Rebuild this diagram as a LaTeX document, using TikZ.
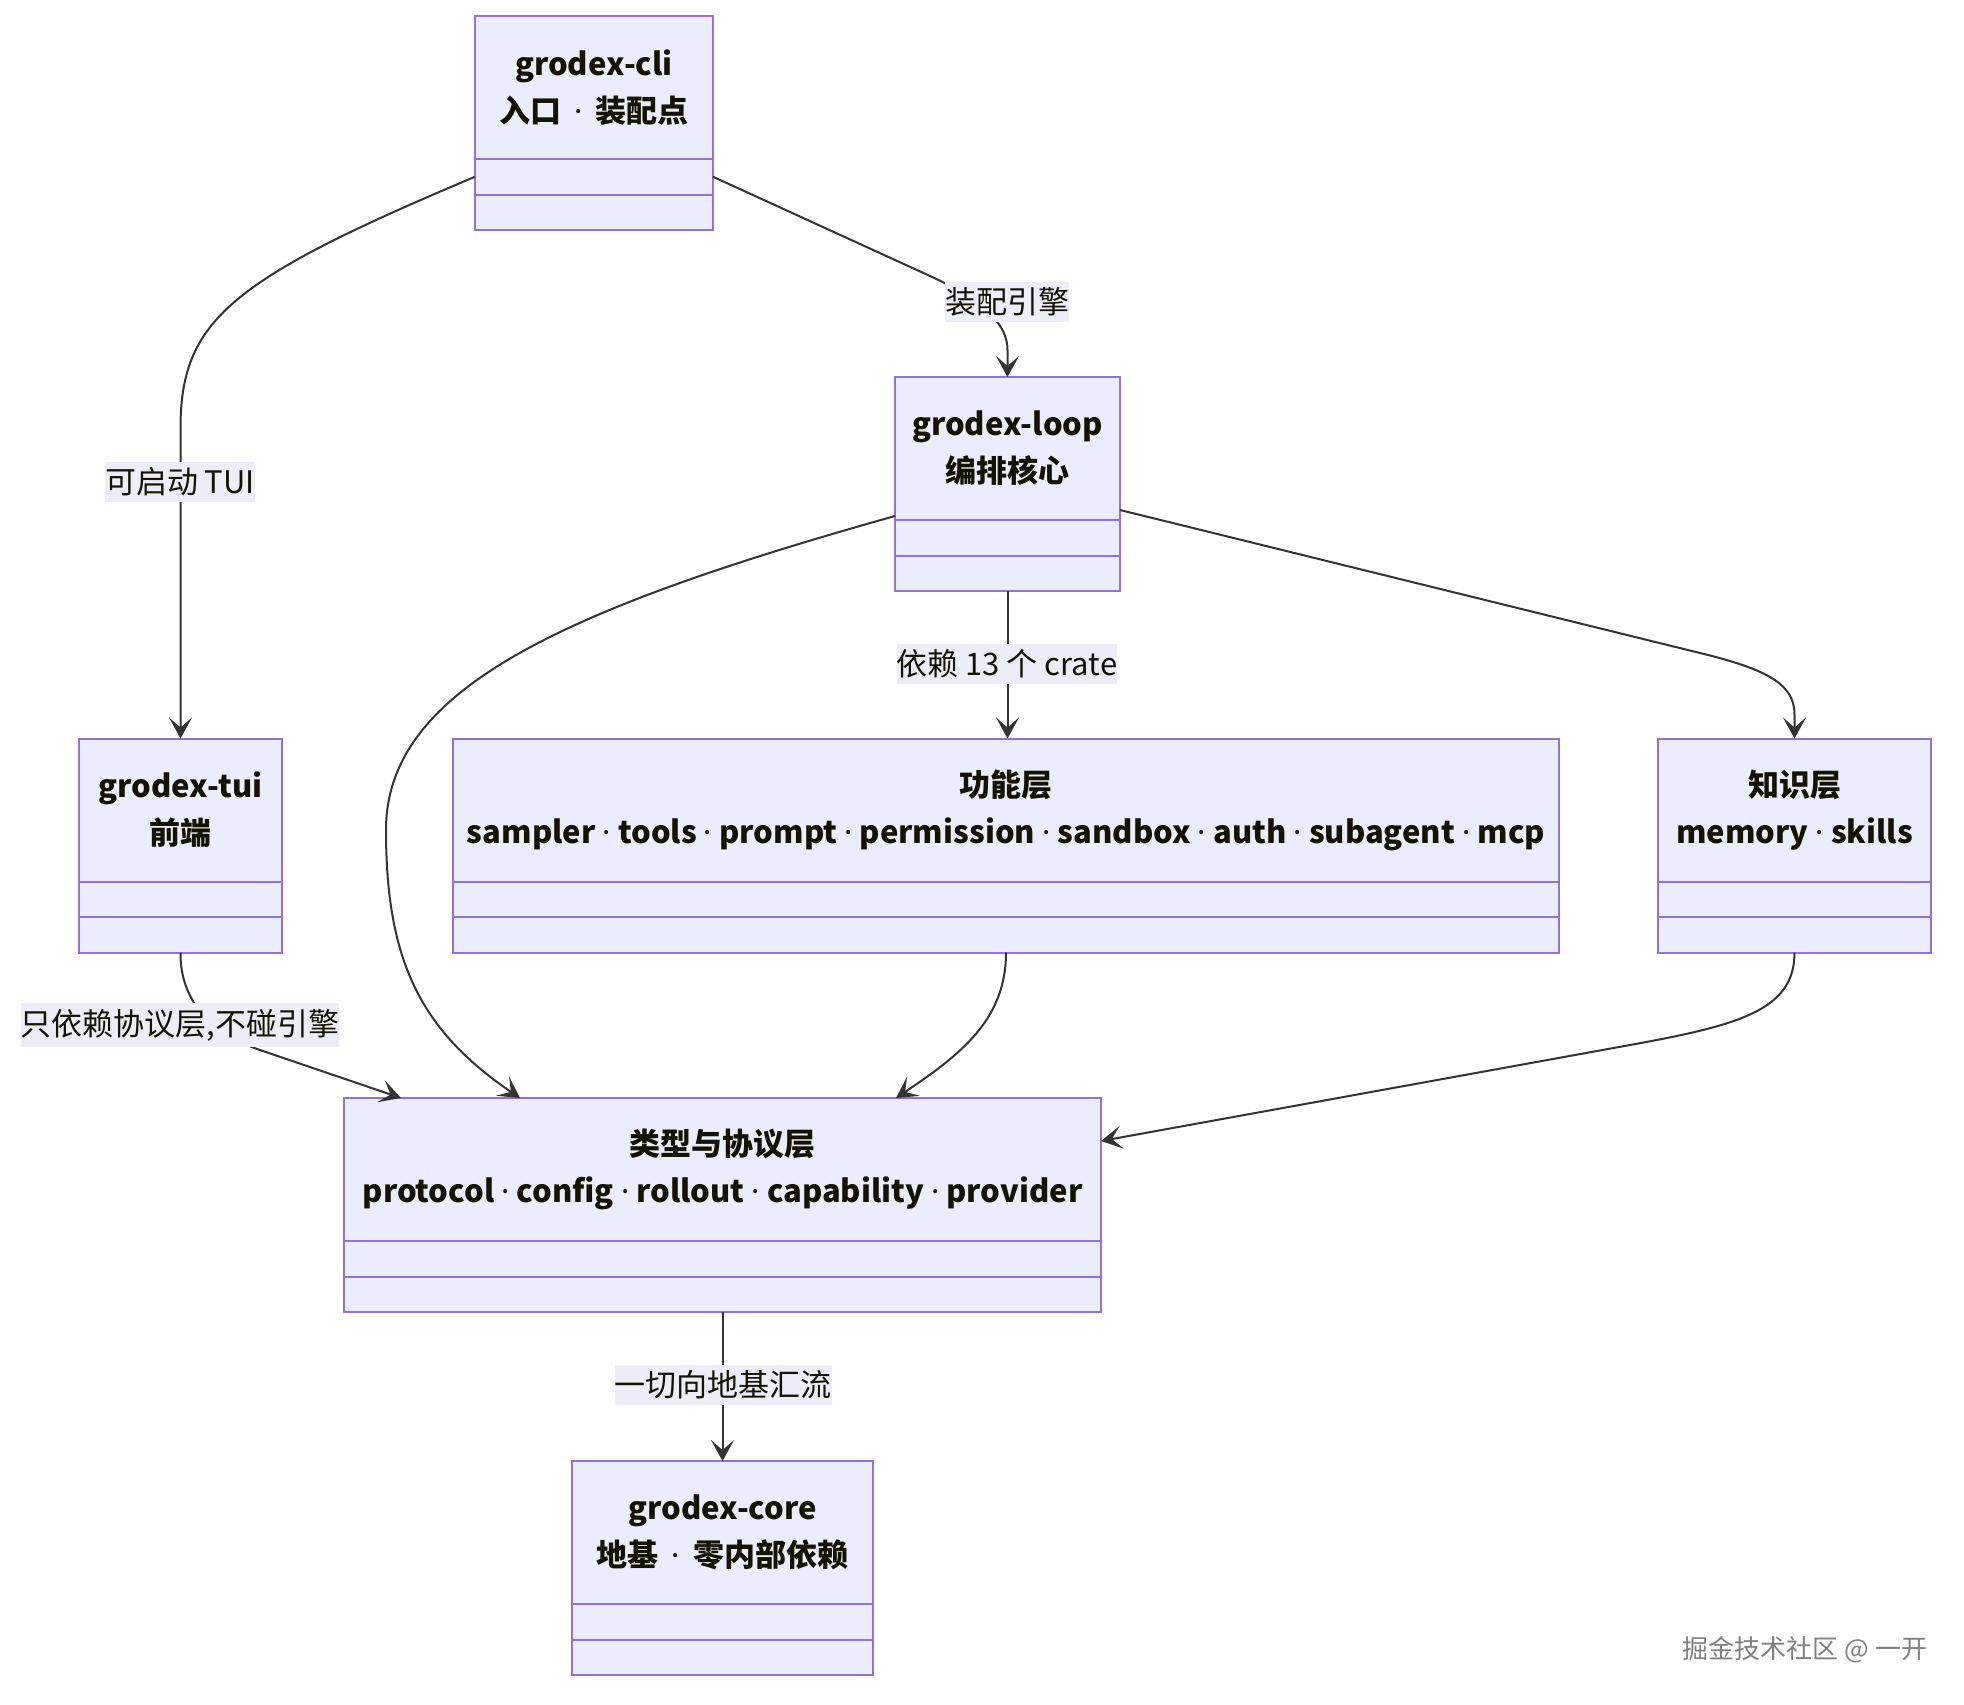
\documentclass[tikz,border=0pt]{standalone}
\usepackage{fontspec}
\setmainfont{Noto Sans CJK SC}
\newfontfamily\dotfont{Noto Sans}
\newcommand{\md}{{\dotfont\bfseries ·}}
\newcommand{\mdw}{\hspace{3pt}{\dotfont\bfseries ·}\hspace{3pt}}
\usetikzlibrary{arrows.meta}
\usetikzlibrary{positioning}
\usetikzlibrary{calc}

\definecolor{umlfill}{HTML}{ECECFF}
\definecolor{umlline}{HTML}{9370DB}
\definecolor{edgeline}{HTML}{333333}
\definecolor{labelbg}{HTML}{EDEDFA}
\definecolor{textcol}{HTML}{131300}

\begin{document}
\begin{tikzpicture}[x=0.5pt, y=-0.5pt, >={Stealth[length=10.5pt,width=11.5pt,inset=5pt]}]
    \tikzstyle{classtitle} = [draw=umlline, fill=umlfill, line width=1pt, minimum height=71.5pt,
      outer sep=0pt, inner sep=0pt, align=center, text=textcol, font=\bfseries\fontsize{15.5}{23.5}\selectfont];
    \tikzstyle{classpart} = [draw=umlline, fill=umlfill, line width=1pt, minimum height=17.75pt,
      outer sep=0pt, inner sep=0pt];
    \tikzstyle{dep} = [draw=edgeline, line width=1pt, ->];
    \tikzstyle{edgelbl} = [fill=labelbg, inner xsep=0pt, inner ysep=3pt, text=textcol,
      font=\fontsize{15.5}{18}\selectfont];
    \fill[white] (0,0) rectangle (1964,1704);
    \useasboundingbox (0,0) rectangle (1964,1704);

    % crates
    \node [classtitle, minimum width=119pt] (cli) at (594,87.5) {grodex-cli\\入口 \mdw{} 装配点};
    \node [classpart, minimum width=119pt, below=0pt of cli] (cli-a) {};
    \node [classpart, minimum width=119pt, below=0pt of cli-a] (cli-b) {};
    \node [classtitle, minimum width=112.5pt] (loop) at (1007.5,448.5) {grodex-loop\\编排核心};
    \node [classpart, minimum width=112.5pt, below=0pt of loop] (loop-a) {};
    \node [classpart, minimum width=112.5pt, below=0pt of loop-a] (loop-b) {};
    \node [classtitle, minimum width=101.5pt] (tui) at (180.5,810) {grodex-tui\\前端};
    \node [classpart, minimum width=101.5pt, below=0pt of tui] (tui-a) {};
    \node [classpart, minimum width=101.5pt, below=0pt of tui-a] (tui-b) {};
    \node [classtitle, minimum width=553pt] (feat) at (1006,810)
      {功能层\\sampler \md{} tools \md{} prompt \md{} permission \md{} sandbox \md{} auth \md{} subagent \md{} mcp};
    \node [classpart, minimum width=553pt, below=0pt of feat] (feat-a) {};
    \node [classpart, minimum width=553pt, below=0pt of feat-a] (feat-b) {};
    \node [classtitle, minimum width=136.5pt] (know) at (1794.5,810) {知识层\\memory \md{} skills};
    \node [classpart, minimum width=136.5pt, below=0pt of know] (know-a) {};
    \node [classpart, minimum width=136.5pt, below=0pt of know-a] (know-b) {};
    \node [classtitle, minimum width=378.5pt] (proto) at (722.5,1169.5)
      {类型与协议层\\protocol \md{} config \md{} rollout \md{} capability \md{} provider};
    \node [classpart, minimum width=378.5pt, below=0pt of proto] (proto-a) {};
    \node [classpart, minimum width=378.5pt, below=0pt of proto-a] (proto-b) {};
    \node [classtitle, minimum width=150.5pt] (core) at (722.5,1532.5) {grodex-core\\地基 \mdw{} 零内部依赖};
    \node [classpart, minimum width=150.5pt, below=0pt of core] (core-a) {};
    \node [classpart, minimum width=150.5pt, below=0pt of core-a] (core-b) {};

    % dependencies
    \draw [dep] (cli-a.west) .. controls (230,280) and (180,320) .. (tui.north |- 0,430) -- (tui.north);
    \draw [dep] (cli-a.east) -- (930,276) .. controls (985,301) and (loop.north |- 0,325)
      .. (loop.north |- 0,350) -- (loop.north);
    \draw [dep] (loop-b.south) -- (loop-b.south |- feat.north);
    \draw [dep] ($(loop.south east)+(0,-10)$) -- (1700,653) .. controls (1770,670) and (know.north |- 0,685)
      .. (know.north |- 0,715) -- (know.north);
    \draw [dep] ($(loop.south west)+(0,-4)$) .. controls (560,610) and (386,690) .. (386,830)
      .. controls (386,960) and (420,1030) .. ($(proto.north west)+(176,0)$);
    \draw [dep] (tui-b.south) .. controls (180,1000) and (210,1033) .. (260,1050)
      -- ($(proto.north west)+(57,0)$);
    \draw [dep] (feat-b.south) .. controls (1006,1020) and (960,1055) .. ($(proto.north west)+(552,0)$);
    \draw [dep] (know-b.south) .. controls (1794.5,1010) and (1740,1025) .. (1630,1045)
      -- ($(proto.east)+(0,-28.5)$);
    \draw [dep] (proto-b.south) -- (core.north);

    % edge labels
    \node [edgelbl] (lbl-engine) at (1007,302) {装配引擎};
    \node [edgelbl] (lbl-tui) at (180,482) {可启动 TUI};
    \node [edgelbl] (lbl-crate) at (1007,664) {依赖 13 个 crate};
    \node [edgelbl] (lbl-proto) at (180,1025) {只依赖协议层,不碰引擎};
    \node [edgelbl] (lbl-core) at (723,1385) {一切向地基汇流};

    \node [text=gray, font=\fontsize{13}{15}\selectfont] (mark) at (1805,1650) {掘金技术社区 @ 一开};
\end{tikzpicture}
\end{document}
